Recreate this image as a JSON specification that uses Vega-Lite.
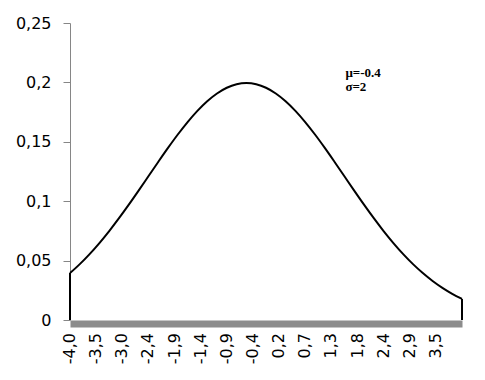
{
  "$schema": "https://vega.github.io/schema/vega-lite/v6.json",
  "autosize": "none",
  "width": 392,
  "height": 297,
  "padding": {"left": 70, "top": 23, "right": 23, "bottom": 60},
  "background": "white",
  "config": {"view": {"stroke": null}, "font": "DejaVu Sans"},
  "datasets": {
    "curve": [
      {"x": -4.0, "y": 0.03948}, {"x": -3.8, "y": 0.04703}, {"x": -3.6, "y": 0.05546}, {"x": -3.4, "y": 0.06476},
      {"x": -3.2, "y": 0.07486}, {"x": -3.0, "y": 0.08569}, {"x": -2.8, "y": 0.09709}, {"x": -2.6, "y": 0.10893},
      {"x": -2.4, "y": 0.12099}, {"x": -2.2, "y": 0.13304}, {"x": -2.0, "y": 0.14485}, {"x": -1.8, "y": 0.15613},
      {"x": -1.6, "y": 0.16661}, {"x": -1.4, "y": 0.17603}, {"x": -1.2, "y": 0.18414}, {"x": -1.0, "y": 0.19069},
      {"x": -0.8, "y": 0.19552}, {"x": -0.6, "y": 0.19848}, {"x": -0.4, "y": 0.19947}, {"x": -0.2, "y": 0.19848},
      {"x": 0.0, "y": 0.19552}, {"x": 0.2, "y": 0.19069}, {"x": 0.4, "y": 0.18414}, {"x": 0.6, "y": 0.17603},
      {"x": 0.8, "y": 0.16661}, {"x": 1.0, "y": 0.15613}, {"x": 1.2, "y": 0.14485}, {"x": 1.4, "y": 0.13304},
      {"x": 1.6, "y": 0.12099}, {"x": 1.8, "y": 0.10893}, {"x": 2.0, "y": 0.09709}, {"x": 2.2, "y": 0.08569},
      {"x": 2.4, "y": 0.07486}, {"x": 2.6, "y": 0.06476}, {"x": 2.8, "y": 0.05546}, {"x": 3.0, "y": 0.04703},
      {"x": 3.2, "y": 0.03948}, {"x": 3.4, "y": 0.03281}, {"x": 3.6, "y": 0.02700}, {"x": 3.8, "y": 0.02199},
      {"x": 4.0, "y": 0.01774}
    ],
    "edges": [{"x": -4.0, "y": 0.03948}, {"x": 4.0, "y": 0.01774}],
    "notes": [{"t": "μ=-0.4", "x": 1.62, "y": 0.2045}, {"t": "σ=2", "x": 1.62, "y": 0.1928}],
    "xlabels": [
      {"x": -4, "t": "-4,0"}, {"x": -3.4665, "t": "-3,5"}, {"x": -2.933, "t": "-3,0"}, {"x": -2.3995, "t": "-2,4"},
      {"x": -1.866, "t": "-1,9"}, {"x": -1.3325, "t": "-1,4"}, {"x": -0.799, "t": "-0,9"}, {"x": -0.2655, "t": "-0,4"},
      {"x": 0.268, "t": "0,2"}, {"x": 0.8015, "t": "0,7"}, {"x": 1.335, "t": "1,3"}, {"x": 1.8685, "t": "1,8"},
      {"x": 2.402, "t": "2,4"}, {"x": 2.9355, "t": "2,9"}, {"x": 3.469, "t": "3,5"}
    ]
  },
  "layer": [
    {
      "data": {"name": "curve"},
      "mark": {"type": "line", "color": "black", "strokeWidth": 2, "interpolate": "monotone"},
      "encoding": {
        "x": {
          "field": "x", "type": "quantitative",
          "scale": {"domain": [-4, 4], "nice": false, "zero": false},
          "axis": {
            "title": null, "grid": false, "ticks": false, "labels": false,
            "domainColor": "#8c8c8c", "domainWidth": 7, "offset": 3.5
          }
        },
        "y": {
          "field": "y", "type": "quantitative",
          "scale": {"domain": [0, 0.25], "nice": false},
          "axis": {
            "title": null, "grid": false,
            "values": [0, 0.05, 0.1, 0.15, 0.2, 0.25],
            "labelExpr": "replace(format(datum.value, '~g'), '.', ',')",
            "domainColor": "#868686", "tickColor": "#868686", "tickSize": 7,
            "labelPadding": 12, "labelFontSize": 16, "labelColor": "#000000",
            "labelFont": "DejaVu Sans"
          }
        }
      }
    },
    {
      "data": {"name": "edges"},
      "mark": {"type": "rule", "color": "black", "strokeWidth": 2},
      "encoding": {
        "x": {"field": "x", "type": "quantitative"},
        "y": {"field": "y", "type": "quantitative"},
        "y2": {"datum": 0}
      }
    },
    {
      "data": {"name": "notes"},
      "mark": {"type": "text", "align": "left", "baseline": "alphabetic", "font": "Liberation Serif", "fontWeight": "bold", "fontSize": 13, "color": "black"},
      "encoding": {
        "x": {"field": "x", "type": "quantitative"},
        "y": {"field": "y", "type": "quantitative"},
        "text": {"field": "t"}
      }
    },
    {
      "data": {"name": "xlabels"},
      "mark": {"type": "text", "angle": 270, "align": "right", "baseline": "middle", "dx": -13, "font": "DejaVu Sans", "fontSize": 16, "color": "black"},
      "encoding": {
        "x": {"field": "x", "type": "quantitative"},
        "y": {"datum": 0},
        "text": {"field": "t"}
      }
    }
  ]
}
